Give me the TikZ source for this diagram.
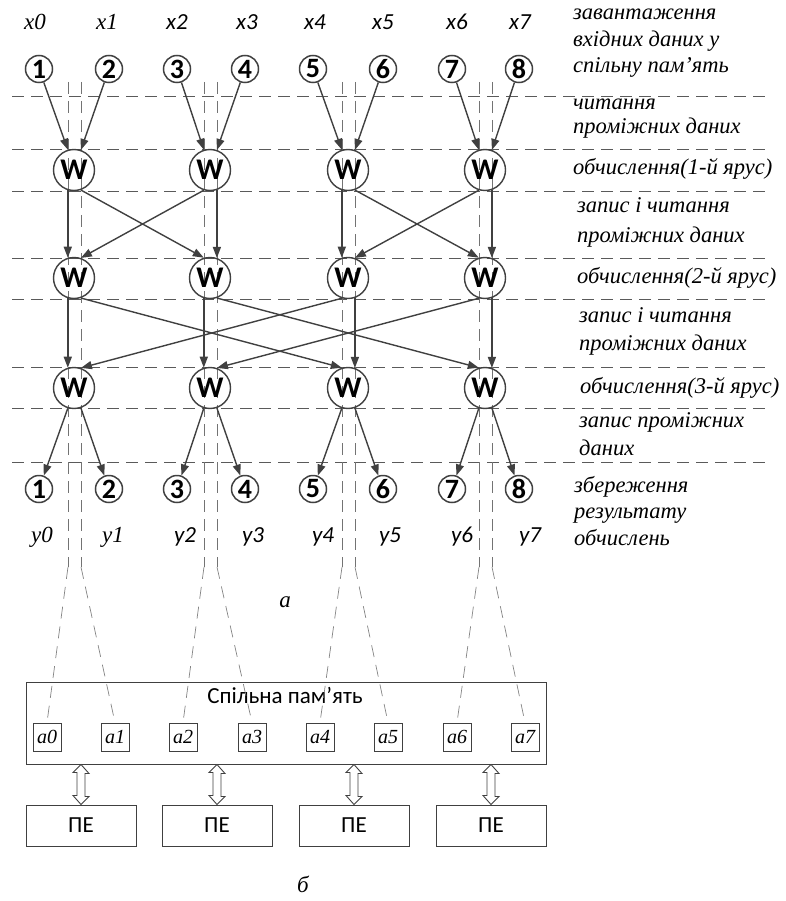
\documentclass[tikz,border=0pt]{standalone}
\usepackage{fontspec}
\setmainfont{Liberation Serif}
\setsansfont{Carlito}
\usetikzlibrary{arrows.meta,calc}
\definecolor{linec}{HTML}{404040}
\definecolor{gridc}{HTML}{5A5A5A}
\begin{document}
\begin{tikzpicture}[x=1pt,y=-1pt,
  num/.style={circle,draw=linec,line width=1.5pt,minimum size=27pt,inner sep=0pt,
    font=\sffamily\bfseries\fontsize{28}{28}\selectfont},
  wnode/.style={circle,draw=linec,line width=1.4pt,minimum size=41pt,inner sep=0pt,
    font=\sffamily\bfseries\fontsize{30}{30}\selectfont},
  flow/.style={draw=linec,line width=1.4pt,-{Triangle[length=11pt,width=8pt]}},
  level/.style={draw=gridc,line width=0.9pt,dash pattern=on 12pt off 7pt},
  guide/.style={draw=gridc!85,line width=0.8pt,dash pattern=on 12pt off 7pt},
  slant/.style={draw=gridc!75,line width=0.7pt,dash pattern=on 12pt off 8pt},
  stage/.style={anchor=base west,inner sep=0pt,font=\itshape\fontsize{22.5}{22.5}\selectfont},
  serifvar/.style={inner sep=0pt,font=\itshape\fontsize{23}{23}\selectfont},
  sansvar/.style={inner sep=0pt,font=\sffamily\itshape\fontsize{23}{23}\selectfont},
  cell/.style={draw=linec,line width=1pt,minimum size=28pt,inner sep=0pt,
    font=\itshape\fontsize{20}{20}\selectfont},
  pe/.style={draw=linec,line width=1pt,minimum width=110pt,minimum height=41pt,inner sep=0pt,
    font=\sffamily\fontsize{23}{23}\selectfont},
  bus/.style={draw=linec,line width=0.9pt,fill=white}
]
\useasboundingbox (0,0) rectangle (786,901);

% stage boundaries
\foreach \yy in {96,149,191,258,299,367,408,462}
  \draw[level] (12,\yy) -- (767,\yy);

% shared memory with its cells
\node[draw=linec,line width=1pt,minimum width=520pt,minimum height=82pt] (mem) at (286,723) {};
\node[inner sep=0pt,font=\sffamily\fontsize{23}{23}\selectfont] (memlabel) at (285,695) {Спільна пам’ять};
\foreach \k/\xx in {0/47,1/115,2/183,3/252,4/320,5/388,6/457,7/525}
  \node[cell] (a\k) at (\xx,737) {a\k};

% processing elements
\foreach \k/\xx in {1/81,2/217,3/354,4/491}
  \node[pe] (pe\k) at (\xx,825.5) {ПЕ};

% memory <-> PE links
\foreach \k in {1,2,3,4}{
  \coordinate (top\k) at (mem.south -| pe\k.north);
  \draw[bus] (top\k) -- ++(8,9) -- ++(-4,0) -- ++(0,23) -- ++(4,0) -- (pe\k.north)
    -- ++(-8,-9) -- ++(4,0) -- ++(0,-23) -- ++(-4,0) -- cycle;
}

% guide lines from the butterfly columns to memory cells
\foreach \xx/\l/\r in {74/0/1,210/2/3,348/4/5,485/6/7}{
  \coordinate (gl\l) at (\xx-6,82);
  \coordinate (gr\r) at (\xx+7,82);
  \coordinate (bl\l) at (\xx-6,567);
  \coordinate (br\r) at (\xx+7,567);
  \draw[guide] (gl\l) -- (bl\l);
  \draw[guide] (gr\r) -- (br\r);
  \draw[slant] (bl\l) -- (a\l.north);
  \draw[slant] (br\r) -- (a\r.north);
}

% input and output nodes
\foreach \i/\xx in {1/39,2/109,3/177,4/245,5/313,6/383,7/452,8/519}{
  \node[num] (in\i) at (\xx,69) {\i};
  \node[num] (out\i) at (\xx,489) {\i};
}

% butterfly operators
\foreach \c/\xx in {1/74,2/210,3/348,4/485}
  \foreach \r/\yy in {1/170,2/278,3/388}
    \node[wnode] (w\r\c) at (\xx,\yy) {W};

% loading
\foreach \c/\a/\b in {1/1/2,2/3/4,3/5/6,4/7/8}{
  \draw[flow] (in\a) -- (w1\c.107);
  \draw[flow] (in\b) -- (w1\c.71);
}
% stage 1
\foreach \p/\q in {1/2,3/4}{
  \draw[flow] (w1\p.253) -- (w2\p.107);
  \draw[flow] (w1\p.289) -- (w2\q.107);
  \draw[flow] (w1\q.253) -- (w2\p.71);
  \draw[flow] (w1\q.289) -- (w2\q.71);
}
% stage 2
\foreach \p/\q in {1/3,2/4}{
  \draw[flow] (w2\p.253) -- (w3\p.107);
  \draw[flow] (w2\p.289) -- (w3\q.107);
  \draw[flow] (w2\q.253) -- (w3\p.71);
  \draw[flow] (w2\q.289) -- (w3\q.71);
}
% storing
\foreach \c/\a/\b in {1/1/2,2/3/4,3/5/6,4/7/8}{
  \draw[flow] (w3\c.253) -- (out\a);
  \draw[flow] (w3\c.289) -- (out\b);
}

% variable names
\node[serifvar] (x0) at (35,22) {x0};
\node[serifvar] (x1) at (107,22) {x1};
\foreach \k/\xx in {2/177,3/247,4/315,5/383,6/457,7/520}
  \node[sansvar] (x\k) at (\xx,22) {x\k};
\node[serifvar] (y0) at (42,537) {y0};
\node[serifvar] (y1) at (113,537) {y1};
\foreach \k/\xx in {2/185,3/253,4/323,5/390,6/462,7/530}
  \node[sansvar] (y\k) at (\xx,537) {y\k};

% stage descriptions
\node[stage] (s1a) at (573,20) {завантаження};
\node[stage] (s1b) at (573,47) {вхідних даних у};
\node[stage] (s1c) at (573,73) {спільну пам’ять};
\node[stage] (s2a) at (573,110) {читання};
\node[stage] (s2b) at (573,134) {проміжних даних};
\node[stage] (s3) at (573,175) {обчислення(1-й ярус)};
\node[stage] (s4a) at (577,213) {запис і читання};
\node[stage] (s4b) at (577,242) {проміжних даних};
\node[stage] (s5) at (577,283) {обчислення(2-й ярус)};
\node[stage] (s6a) at (579,322) {запис і читання};
\node[stage] (s6b) at (579,350) {проміжних даних};
\node[stage] (s7) at (580,393) {обчислення(3-й ярус)};
\node[stage] (s8a) at (579,427) {запис проміжних};
\node[stage] (s8b) at (579,455) {даних};
\node[stage] (s9a) at (574,492) {збереження};
\node[stage] (s9b) at (574,518) {результату};
\node[stage] (s9c) at (574,545) {обчислень};

% sub-figure captions
\node[serifvar] (capa) at (285,602) {а};
\node[serifvar] (capb) at (303,884) {б};
\end{tikzpicture}
\end{document}
